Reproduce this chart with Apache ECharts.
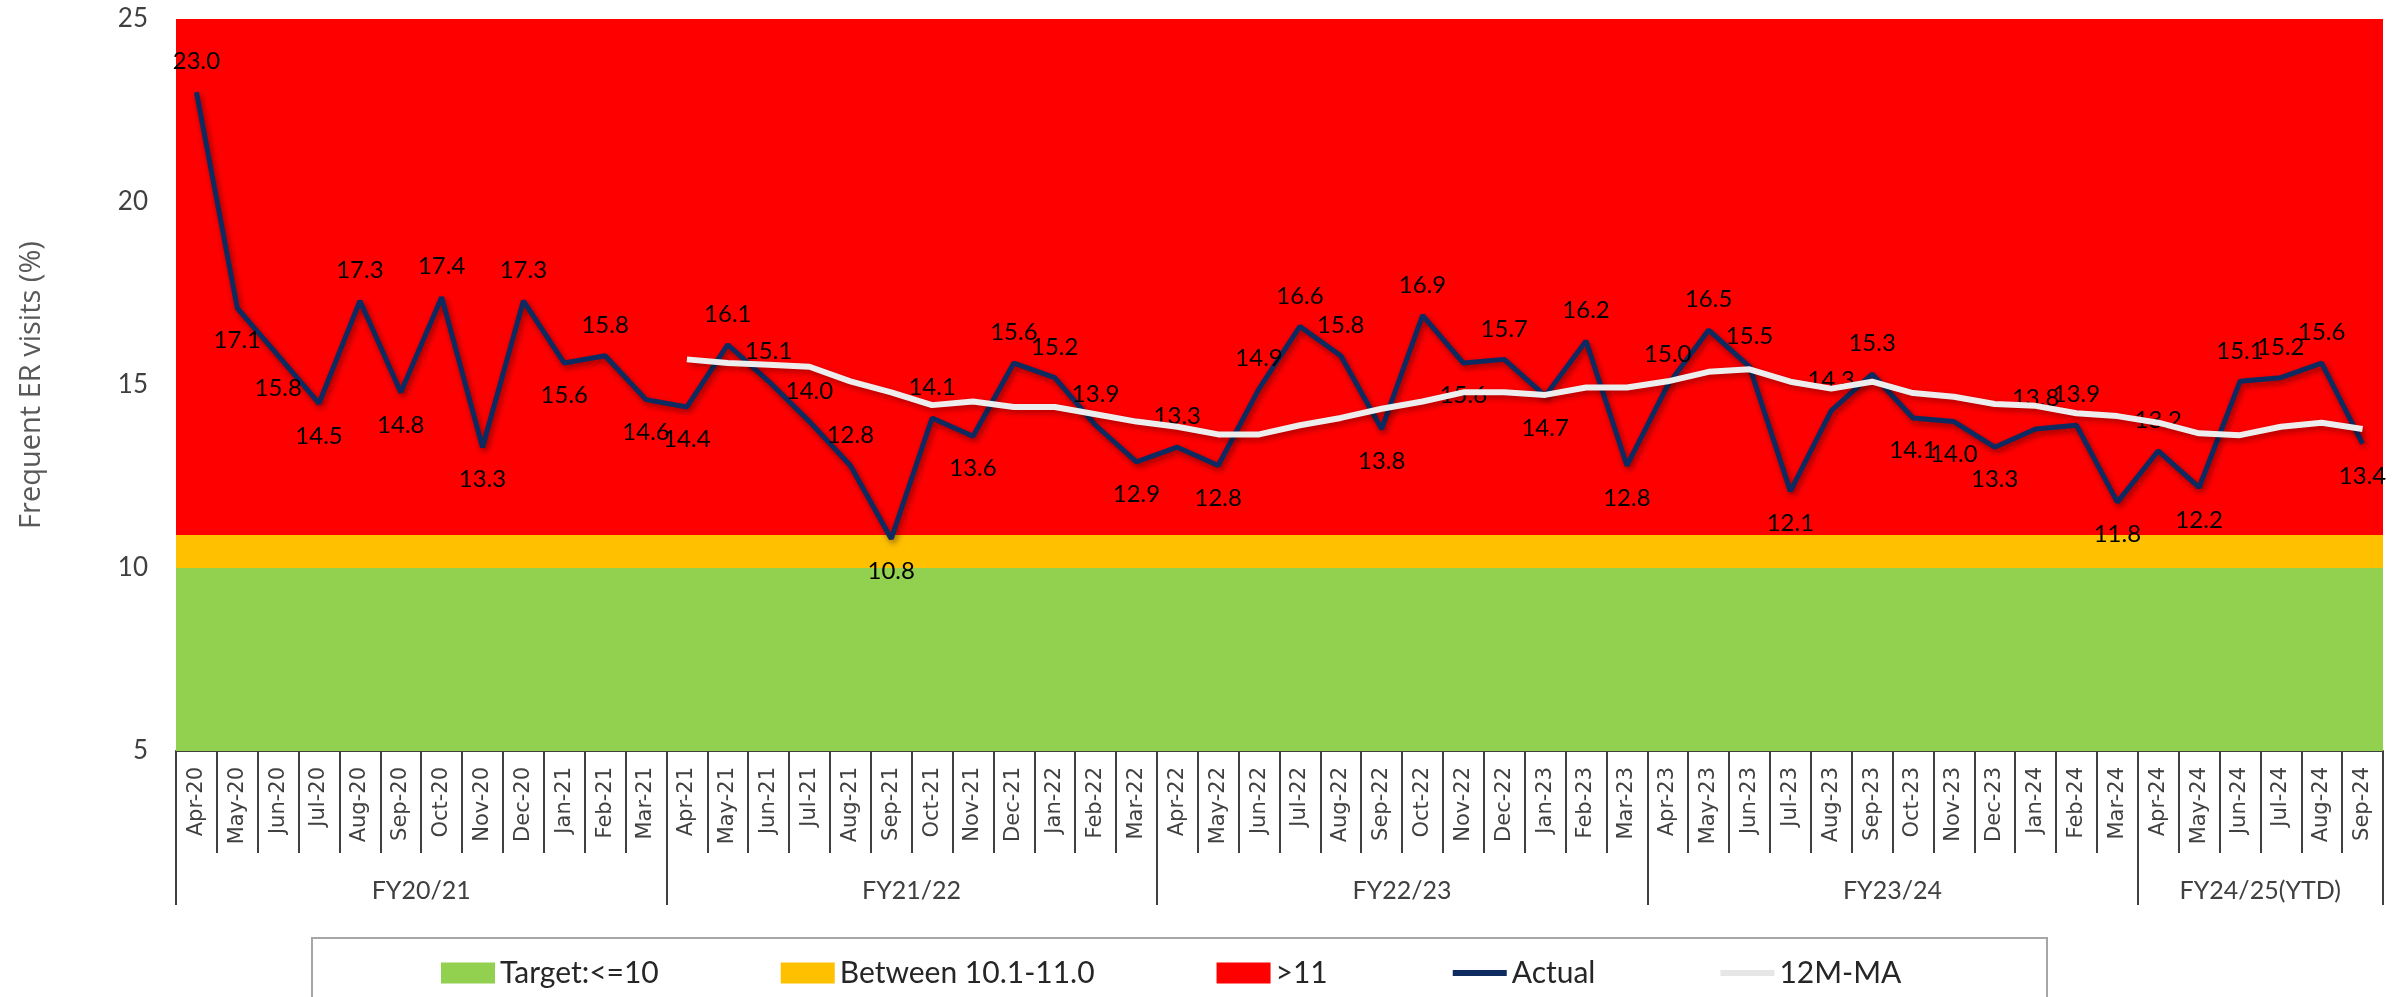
<!DOCTYPE html>
<html>
<head>
<meta charset="utf-8">
<title>Frequent ER visits</title>
<script src="https://cdn.jsdelivr.net/npm/echarts@6/dist/echarts.min.js"></script>
<style>
  html, body { margin: 0; padding: 0; background: #fff; }
  #chart { width: 2397px; height: 997px; }
</style>
</head>
<body>
<div id="chart"></div>
<script>
// categories
const months = [
  'Apr-20', 'May-20', 'Jun-20', 'Jul-20', 'Aug-20', 'Sep-20', 'Oct-20', 'Nov-20', 'Dec-20', 'Jan-21', 'Feb-21', 'Mar-21',
  'Apr-21', 'May-21', 'Jun-21', 'Jul-21', 'Aug-21', 'Sep-21', 'Oct-21', 'Nov-21', 'Dec-21', 'Jan-22', 'Feb-22', 'Mar-22',
  'Apr-22', 'May-22', 'Jun-22', 'Jul-22', 'Aug-22', 'Sep-22', 'Oct-22', 'Nov-22', 'Dec-22', 'Jan-23', 'Feb-23', 'Mar-23',
  'Apr-23', 'May-23', 'Jun-23', 'Jul-23', 'Aug-23', 'Sep-23', 'Oct-23', 'Nov-23', 'Dec-23', 'Jan-24', 'Feb-24', 'Mar-24',
  'Apr-24', 'May-24', 'Jun-24', 'Jul-24', 'Aug-24', 'Sep-24'
]
const fiscalYears = ['FY20/21', 'FY21/22', 'FY22/23', 'FY23/24', 'FY24/25(YTD)']
const fiscalYearMonths = [12, 12, 12, 12, 6]

// series values
const actual = [
  23.0, 17.1, 15.8, 14.5, 17.3, 14.8, 17.4, 13.3, 17.3, 15.6, 15.8, 14.6,
  14.4, 16.1, 15.1, 14.0, 12.8, 10.8, 14.1, 13.6, 15.6, 15.2, 13.9, 12.9,
  13.3, 12.8, 14.9, 16.6, 15.8, 13.8, 16.9, 15.6, 15.7, 14.7, 16.2, 12.8,
  15.0, 16.5, 15.5, 12.1, 14.3, 15.3, 14.1, 14.0, 13.3, 13.8, 13.9, 11.8,
  13.2, 12.2, 15.1, 15.2, 15.6, 13.4
]
const movingAverage = [
  null, null, null, null, null, null, null, null, null, null, null, null,
  15.7, 15.6, 15.55, 15.5, 15.1, 14.8, 14.45, 14.55, 14.4, 14.4, 14.2, 14.0,
  13.86, 13.65, 13.65, 13.9, 14.1, 14.35, 14.55, 14.8, 14.8, 14.73, 14.93, 14.93,
  15.1, 15.36, 15.43, 15.09, 14.9, 15.09, 14.78, 14.68, 14.48, 14.43, 14.23, 14.15,
  13.97, 13.68, 13.63, 13.86, 13.97, 13.8
]

// target bands
const bandNames = ['Target:<=10', 'Between 10.1-11.0', '>11']
const bandFrom = [5, 10, 10.9]
const bandTo = [10, 10.9, 25]

// y axis
const yName = 'Frequent ER visits (%)'
const yMin = 5
const yMax = 25
const yStep = 5

// months whose value label sits under the line
const labelsBelow = [1, 2, 3, 5, 7, 9, 11, 12, 17, 19, 23, 25, 29, 31, 33, 35, 39, 42, 43, 44, 47, 49, 53]

const bandColors = ['#92D050', '#FFC000', '#FF0000']
const navy = '#0D2B61'
const lightGrey = '#EDEDED'
const axisGrey = '#404040'

// tick boundaries and label slots of the fiscal year row
const groupLabelAt = {}
const groupStarts = {}
let start = 0
fiscalYears.forEach((fy, i) => {
  groupStarts[start] = true
  groupLabelAt[start + fiscalYearMonths[i] / 2] = fy
  start += fiscalYearMonths[i]
})

const below = new Set(labelsBelow)

const chart = echarts.init(document.getElementById('chart'))

const bandSeries = bandNames.map((name, i) => ({
  name: name,
  type: 'line',
  data: [],
  itemStyle: { color: bandColors[i] },
  z: 1,
  markArea: {
    silent: true,
    label: { show: false },
    itemStyle: { color: bandColors[i], opacity: 1 },
    data: [[{ yAxis: bandFrom[i] }, { yAxis: bandTo[i] }]]
  }
}))

const hiddenDot = { color: 'rgba(0,0,0,0)', borderWidth: 0 }

const option = {
  animation: false,
  backgroundColor: '#fff',
  textStyle: { fontFamily: 'Lato' },
  grid: { left: 176, right: 14, top: 19, bottom: 246 },
  legend: {
    left: 436,
    top: 953,
    itemWidth: 54,
    itemHeight: 21,
    itemGap: 122,
    textStyle: { fontFamily: 'Lato', fontSize: 30, color: '#262626' },
    data: [
      { name: bandNames[0], icon: 'rect' },
      { name: bandNames[1], icon: 'rect' },
      { name: bandNames[2], icon: 'rect' },
      { name: 'Actual', itemStyle: hiddenDot, lineStyle: { width: 6, color: navy, shadowBlur: 0 } },
      { name: '12M-MA', itemStyle: hiddenDot, lineStyle: { width: 6, color: '#E6E6E6', shadowBlur: 0 } }
    ]
  },
  graphic: [
    {
      type: 'rect',
      shape: { x: 312, y: 938, width: 1735, height: 80 },
      style: { fill: 'none', stroke: '#A6A6A6', lineWidth: 2 }
    }
  ],
  xAxis: [
    {
      type: 'category',
      data: months,
      position: 'bottom',
      axisLine: { onZero: false, lineStyle: { color: axisGrey, width: 2 } },
      axisTick: { show: true, interval: 0, length: 102, lineStyle: { color: axisGrey, width: 2 } },
      axisLabel: {
        interval: 0,
        rotate: 90,
        margin: 16,
        fontFamily: 'DejaVu Sans',
        fontSize: 21,
        color: axisGrey
      },
      splitLine: { show: false }
    },
    {
      type: 'category',
      data: months,
      position: 'bottom',
      axisLine: { show: false, onZero: false },
      axisTick: {
        show: true,
        interval: idx => groupStarts[idx] === true,
        length: 154,
        lineStyle: { color: axisGrey, width: 2 }
      },
      axisLabel: {
        interval: idx => groupLabelAt[idx] !== undefined,
        formatter: (value, idx) => groupLabelAt[idx] || '',
        margin: 127,
        padding: [0, 41, 0, 0],
        fontFamily: 'Lato',
        fontSize: 25,
        color: axisGrey
      },
      splitLine: { show: false }
    }
  ],
  yAxis: {
    type: 'value',
    name: yName,
    nameLocation: 'middle',
    nameGap: 130,
    nameTextStyle: {
      fontFamily: 'Open Sans',
      fontSize: 29,
      color: '#595959'
    },
    min: yMin,
    max: yMax,
    interval: yStep,
    axisLine: { show: false },
    axisTick: { show: false },
    splitLine: { show: false },
    axisLabel: { margin: 28, fontFamily: 'Lato', fontSize: 26, color: axisGrey }
  },
  series: bandSeries.concat([
    {
      name: 'Actual',
      type: 'line',
      z: 3,
      symbol: 'circle',
      symbolSize: 1,
      showSymbol: true,
      showAllSymbol: true,
      itemStyle: { color: navy },
      lineStyle: {
        color: navy,
        width: 5,
        shadowColor: 'rgba(0,0,0,0.45)',
        shadowBlur: 6,
        shadowOffsetX: 2,
        shadowOffsetY: 3
      },
      label: {
        show: true,
        fontFamily: 'Lato',
        fontSize: 24,
        color: '#000',
        formatter: p => p.value.toFixed(1)
      },
      labelLayout: { hideOverlap: false },
      data: actual.map((v, i) => ({
        value: v,
        label: below.has(i) ? { position: 'bottom', distance: 20 } : { position: 'top', distance: 18 }
      }))
    },
    {
      name: '12M-MA',
      type: 'line',
      z: 4,
      symbol: 'none',
      connectNulls: false,
      itemStyle: { color: lightGrey },
      lineStyle: {
        color: lightGrey,
        width: 6,
        shadowColor: 'rgba(0,0,0,0.35)',
        shadowBlur: 6,
        shadowOffsetX: 2,
        shadowOffsetY: 3
      },
      data: movingAverage
    }
  ])
}

chart.setOption(option)
</script>
</body>
</html>
